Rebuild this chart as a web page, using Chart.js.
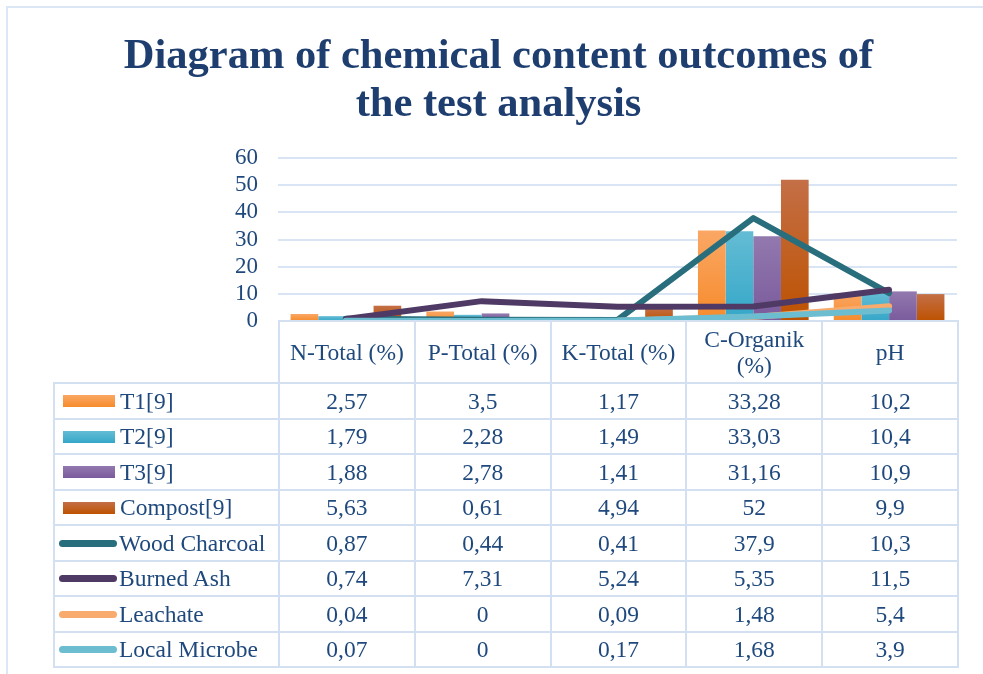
<!DOCTYPE html>
<html>
<head>
<meta charset="utf-8">
<script src="https://cdn.jsdelivr.net/npm/chart.js@4"></script>
<style>
  html, body { margin: 0; padding: 0; background: #fff; }
  body { width: 983px; height: 674px; position: relative; overflow: hidden; }
  #frame { position: absolute; left: 6px; top: 6px; width: 1000px; height: 700px;
           border-top: 2px solid #dce7f5; border-left: 2px solid #dce7f5; }
  #wrap { position: absolute; left: 0; top: 0; width: 983px; height: 674px; }
  #dataTable { position: absolute; left: 53px; top: 320px; border-collapse: collapse;
               font-family: "Liberation Serif", "Times New Roman", serif; font-size: 23.5px; color: #1f497d; }
  #dataTable td { border: 2px solid #d3e0f2; text-align: center; padding: 0; height: 33.5px; width: 133.8px; line-height: 26px; }
  #dataTable tr.head td { height: 60px; line-height: 26px; }
  #dataTable td.empty { border: none; }
  #dataTable td.leg { width: 223px; text-align: left; white-space: nowrap; }
  .sw { display: inline-block; vertical-align: middle; margin-right: 5px; position: relative; top: -2px; }
  .sw.bar { width: 52px; height: 12px; margin-left: 8px; }
  .sw.line { width: 58px; height: 7px; border-radius: 4px; margin-left: 4px; margin-right: 2px; }
</style>
</head>
<body>
<div id="frame"></div>
<div id="wrap"><canvas id="chemChart" width="983" height="674"></canvas></div>
<table id="dataTable"></table>
<script>
// kategori parameter
const categories = ['N-Total (%)', 'P-Total (%)', 'K-Total (%)', 'C-Organik (%)', 'pH'];
const headerLabels = ['N-Total (%)', 'P-Total (%)', 'K-Total (%)', 'C-Organik<br>(%)', 'pH'];

// nilai tiap seri
const t1 = [2.57, 3.5, 1.17, 33.28, 10.2];
const t2 = [1.79, 2.28, 1.49, 33.03, 10.4];
const t3 = [1.88, 2.78, 1.41, 31.16, 10.9];
const compost = [5.63, 0.61, 4.94, 52, 9.9];
const woodCharcoal = [0.87, 0.44, 0.41, 37.9, 10.3];
const burnedAsh = [0.74, 7.31, 5.24, 5.35, 11.5];
const leachate = [0.04, 0, 0.09, 1.48, 5.4];
const localMicrobe = [0.07, 0, 0.17, 1.68, 3.9];

const yTicks = [0, 10, 20, 30, 40, 50, 60];

const textColor = '#1f497d';
const serif = '"Liberation Serif", "Times New Roman", serif';

// gradien batang (atas terang, bawah gelap)
function barGradient(top, bottom) {
    return function(context) {
        const chart = context.chart;
        if (!chart.chartArea || context.parsed == null) return bottom;
        const yScale = chart.scales.y;
        const y0 = yScale.getPixelForValue(context.parsed.y);
        const y1 = yScale.getPixelForValue(0);
        if (!isFinite(y0) || !isFinite(y1) || y1 - y0 < 1) return bottom;
        const g = chart.ctx.createLinearGradient(0, y0, 0, y1);
        g.addColorStop(0, top);
        g.addColorStop(1, bottom);
        return g;
    };
}

const barSeries = [
    { label: 'T1[9]', data: t1, top: '#faa764', bottom: '#f68b2c' },
    { label: 'T2[9]', data: t2, top: '#64bcd4', bottom: '#35a7c8' },
    { label: 'T3[9]', data: t3, top: '#9279ae', bottom: '#7a5a9c' },
    { label: 'Compost[9]', data: compost, top: '#c46f47', bottom: '#bd5200' }
];
const lineSeries = [
    { label: 'Wood Charcoal', data: woodCharcoal, color: '#286e7d', order: 4 },
    { label: 'Burned Ash', data: burnedAsh, color: '#4f3a66', order: 3 },
    { label: 'Leachate', data: leachate, color: '#f8ab6c', order: 2 },
    { label: 'Local Microbe', data: localMicrobe, color: '#6dbdd1', order: 1 }
];

const datasets = [];
barSeries.forEach(s => {
    datasets.push({
        type: 'bar',
        label: s.label,
        data: s.data,
        backgroundColor: barGradient(s.top, s.bottom),
        borderWidth: 0,
        order: 10,
        categoryPercentage: 0.815,
        barPercentage: 1
    });
});
lineSeries.forEach(s => {
    datasets.push({
        type: 'line',
        label: s.label,
        data: s.data,
        borderColor: s.color,
        backgroundColor: s.color,
        borderWidth: 6,
        pointRadius: 0,
        tension: 0,
        borderCapStyle: 'round',
        borderJoinStyle: 'round',
        order: s.order
    });
});

new Chart(document.getElementById('chemChart').getContext('2d'), {
    type: 'bar',
    data: { labels: categories, datasets },
    options: {
        responsive: false,
        animation: false,
        layout: { padding: { left: 40, right: 26, top: 0, bottom: 353 } },
        plugins: {
            legend: { display: false },
            tooltip: { enabled: false },
            title: {
                display: true,
                text: ['Diagram of chemical content outcomes of', 'the test analysis'],
                color: '#1f3e70',
                font: { family: serif, size: 42.5, weight: 'bold', lineHeight: 1.13 },
                padding: { top: 33, bottom: 29 }
            }
        },
        scales: {
            x: { display: false, offset: true },
            y: {
                min: 0,
                max: 60,
                afterFit: scale => { scale.width = 238; },
                afterBuildTicks: scale => { scale.ticks = yTicks.map(v => ({ value: v })); },
                border: { display: false },
                grid: { color: '#d9e5f4', lineWidth: 2, drawTicks: false },
                ticks: {
                    autoSkip: false,
                    color: textColor,
                    padding: 20,
                    font: { family: serif, size: 23 }
                }
            }
        }
    }
});

// tabel data di bawah grafik
const fmt = v => String(v).replace('.', ',');
const table = document.getElementById('dataTable');
let html = '<tr class="head"><td class="empty leg"></td>' + headerLabels.map(h => `<td>${h}</td>`).join('') + '</tr>';
barSeries.forEach(s => {
    html += `<tr><td class="leg"><span class="sw bar" style="background:linear-gradient(${s.top},${s.bottom})"></span>${s.label}</td>`
        + s.data.map(v => `<td>${fmt(v)}</td>`).join('') + '</tr>';
});
lineSeries.forEach(s => {
    html += `<tr><td class="leg"><span class="sw line" style="background:${s.color}"></span>${s.label}</td>`
        + s.data.map(v => `<td>${fmt(v)}</td>`).join('') + '</tr>';
});
table.innerHTML = html;
</script>
</body>
</html>
